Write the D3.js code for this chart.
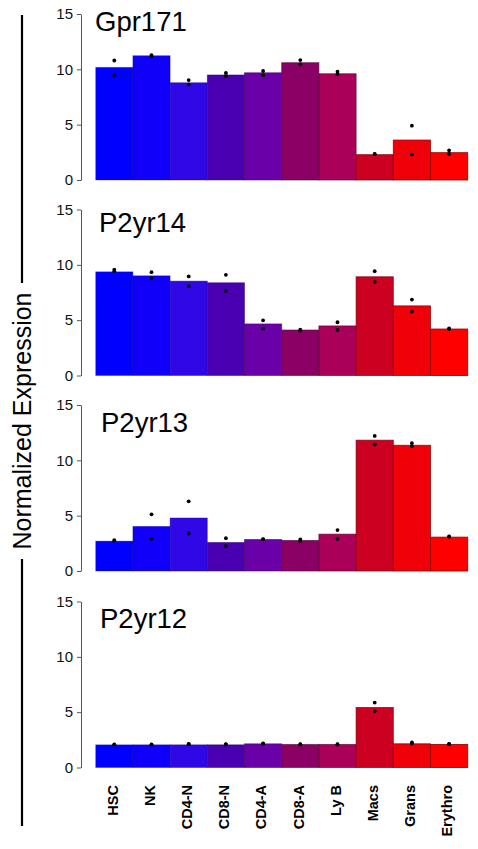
<!DOCTYPE html>
<html>
<head>
<meta charset="utf-8">
<script src="https://cdn.jsdelivr.net/npm/d3@7"></script>
<style>
  html, body { margin: 0; padding: 0; background: #fff; }
  svg { display: block; }
</style>
</head>
<body>
<svg id="chart" width="478" height="849"></svg>
<script>
const categories = ["HSC", "NK", "CD4-N", "CD8-N", "CD4-A", "CD8-A", "Ly B", "Macs", "Grans", "Erythro"];
const barColors = ["#0000ff", "#1000fa", "#3008e8", "#4800b0", "#6a00a8", "#8a0064", "#aa005a", "#cc0020", "#f00008", "#ff0000"];
const genes = ["Gpr171", "P2yr14", "P2yr13", "P2yr12"];
const yTicks = [0, 5, 10, 15];
const yLabel = "Normalized Expression";

// mean values (bar heights)
const gpr171Means = [10.18, 11.23, 8.79, 9.49, 9.69, 10.6, 9.6, 2.29, 3.61, 2.47];
const p2yr14Means = [9.37, 9.01, 8.53, 8.38, 4.66, 4.11, 4.48, 8.92, 6.29, 4.2];
const p2yr13Means = [2.7, 4.03, 4.79, 2.58, 2.85, 2.76, 3.33, 11.82, 11.36, 3.06];
const p2yr12Means = [2.05, 2.05, 2.05, 2.05, 2.14, 2.08, 2.08, 5.42, 2.14, 2.08];

// replicate values (dots), two per category
const gpr171Reps = [[10.8, 9.49], [11.29, 11.2], [9.03, 8.61], [9.67, 9.4], [9.85, 9.46], [10.84, 10.45], [9.79, 9.55], [2.35, 2.33], [4.91, 2.32], [2.68, 2.35]];
const p2yr14Reps = [[9.56, 9.43], [9.34, 8.8], [8.95, 8.07], [9.1, 7.65], [4.99, 4.23], [4.14, 4.05], [4.81, 4.11], [9.43, 8.47], [6.86, 5.78], [4.26, 4.2]];
const p2yr13Reps = [[2.79, 2.73], [5.12, 2.91], [6.3, 3.39], [2.97, 2.24], [2.88, 2.86], [2.85, 2.7], [3.7, 2.91], [12.21, 11.45], [11.55, 11.27], [3.12, 3.1]];
const p2yr12Reps = [[2.08, 2.07], [2.08, 2.07], [2.14, 2.1], [2.1, 2.08], [2.17, 2.15], [2.1, 2.08], [2.1, 2.08], [5.87, 5.09], [2.26, 2.17], [2.14, 2.1]];

const meansList = [gpr171Means, p2yr14Means, p2yr13Means, p2yr12Means];
const repsList = [gpr171Reps, p2yr14Reps, p2yr13Reps, p2yr12Reps];

// layout
const panelTops = [14, 209.5, 405, 601.5];
const panelH = 166;
const titleDx = [95, 99, 101, 100];
const titleDy = [17, 22.5, 26.5, 26];
const axisX = 81;
const barsLeft = 95.7, barsRight = 467.7;

const svg = d3.select("#chart");
const x = d3.scaleBand().domain(categories).range([barsLeft, barsRight]).padding(0);

genes.forEach((gene, gi) => {
  const top = panelTops[gi];
  const y = d3.scaleLinear().domain([0, 15]).range([top + panelH, top]);
  const g = svg.append("g");

  // bars
  g.selectAll("rect.bar").data(categories).join("rect")
    .attr("class", "bar")
    .attr("x", d => x(d))
    .attr("y", (d, i) => y(meansList[gi][i]))
    .attr("width", x.bandwidth())
    .attr("height", (d, i) => y(0) - y(meansList[gi][i]))
    .attr("fill", (d, i) => barColors[i])
    .attr("stroke", (d, i) => d3.color(barColors[i]).darker(1.6))
    .attr("stroke-opacity", (d, i) => 0.3 + 0.6 * i / (categories.length - 1))
    .attr("stroke-width", 0.9);

  // dots
  const pts = [];
  categories.forEach((c, i) => repsList[gi][i].forEach(v => pts.push({ c, v })));
  g.selectAll("circle.pt").data(pts).join("circle")
    .attr("class", "pt")
    .attr("cx", d => x(d.c) + x.bandwidth() / 2)
    .attr("cy", d => y(d.v))
    .attr("r", 1.9)
    .attr("fill", "#000");

  // y axis
  const ax = g.append("g")
    .attr("transform", `translate(${axisX},0)`)
    .call(d3.axisLeft(y).tickValues(yTicks).tickSize(4).tickPadding(4).tickSizeOuter(0));
  ax.select(".domain").attr("stroke", "#555").attr("stroke-width", 1);
  ax.selectAll(".tick line").attr("stroke", "#555");
  ax.selectAll(".tick text")
    .attr("font-family", "Liberation Sans, Arial, sans-serif")
    .attr("font-size", 15)
    .attr("fill", "#111");

  // title
  g.append("text")
    .attr("x", titleDx[gi])
    .attr("y", top + titleDy[gi])
    .attr("font-family", "Liberation Sans, Arial, sans-serif")
    .attr("font-size", 27.5)
    .attr("fill", "#000")
    .text(gene);
});

// x category labels
svg.append("g").selectAll("text").data(categories).join("text")
  .attr("transform", d => `translate(${x(d) + x.bandwidth() / 2 - 2},785) rotate(-90)`)
  .attr("text-anchor", "end")
  .attr("dy", "0.36em")
  .attr("font-family", "Liberation Sans, Arial, sans-serif")
  .attr("font-weight", "bold")
  .attr("font-size", 14.5)
  .attr("fill", "#000")
  .text(d => d);

// y label with lines
const labelX = 22, labelMid = 421;
svg.append("text")
  .attr("transform", `translate(${labelX + 9},${labelMid}) rotate(-90)`)
  .attr("text-anchor", "middle")
  .attr("font-family", "Liberation Sans, Arial, sans-serif")
  .attr("font-size", 25)
  .attr("fill", "#000")
  .text(yLabel);
svg.append("line").attr("x1", labelX).attr("x2", labelX).attr("y1", 15).attr("y2", 283)
  .attr("stroke", "#000").attr("stroke-width", 2.2);
svg.append("line").attr("x1", labelX).attr("x2", labelX).attr("y1", 559).attr("y2", 826)
  .attr("stroke", "#000").attr("stroke-width", 2.2);
</script>
</body>
</html>
